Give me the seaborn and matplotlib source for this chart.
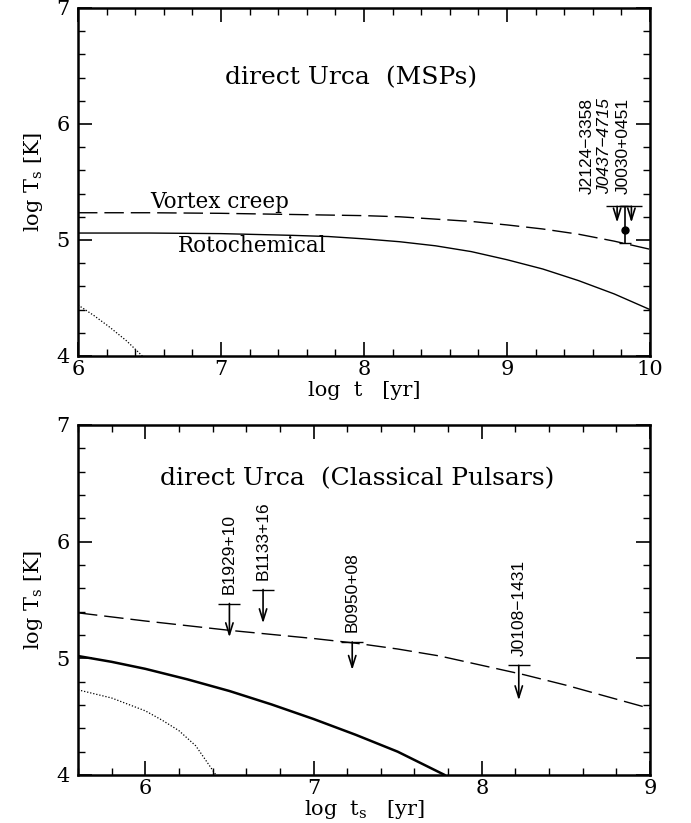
import numpy as np
import pandas as pd
import matplotlib
matplotlib.use("Agg")
import matplotlib.pyplot as plt
import seaborn as sns
from matplotlib.ticker import MultipleLocator

# ---------------- data ----------------
# Top panel (MSPs)
msp_t = [6.0, 6.5, 7.0, 7.5, 7.75, 8.0, 8.25, 8.5, 8.75, 9.0, 9.25, 9.5, 9.75, 10.0]
msp_vortex = [5.235, 5.235, 5.23, 5.22, 5.215, 5.21, 5.20, 5.18, 5.16, 5.13,
              5.095, 5.05, 4.99, 4.92]
msp_roto = [5.06, 5.06, 5.055, 5.04, 5.03, 5.01, 4.985, 4.95, 4.90, 4.83,
            4.75, 4.65, 4.535, 4.40]
msp_dot_t = [6.0, 6.11, 6.22, 6.34, 6.45]
msp_dot_T = [4.44, 4.35, 4.25, 4.13, 4.0]

msp_lim_names = ["J2124\u22123358", "J0030+0451"]
msp_lim_t = [9.77, 9.87]
msp_lim_T = [5.29, 5.29]
msp_lim_tip = [5.15, 5.15]

msp_det_name = "J0437\u22124715"
msp_det_t = 9.825
msp_det_T = 5.09
msp_det_lo = 4.97
msp_det_hi = 5.29

msp_label_names = ["J2124\u22123358", "J0437\u22124715", "J0030+0451"]
msp_label_t = [9.56, 9.685, 9.81]
msp_label_T = [5.40, 5.40, 5.40]

# Bottom panel (classical pulsars)
cp_t = [5.6, 5.8, 6.0, 6.25, 6.5, 6.75, 7.0, 7.25, 7.5, 7.75, 8.0, 8.25, 8.5, 8.75, 9.0]
cp_vortex = [5.39, 5.355, 5.32, 5.28, 5.24, 5.205, 5.17, 5.13, 5.08, 5.02,
             4.94, 4.86, 4.77, 4.67, 4.57]
cp_roto_t = [5.6, 5.8, 6.0, 6.25, 6.5, 6.75, 7.0, 7.25, 7.5, 7.78]
cp_roto = [5.02, 4.97, 4.91, 4.82, 4.72, 4.605, 4.48, 4.345, 4.20, 4.0]
cp_dot_t = [5.6, 5.8, 6.0, 6.1, 6.2, 6.3, 6.42]
cp_dot_T = [4.73, 4.66, 4.55, 4.47, 4.38, 4.25, 4.0]

cp_names = ["B1929+10", "B1133+16", "B0950+08", "J0108\u22121431"]
cp_lim_t = [6.50, 6.70, 7.23, 8.22]
cp_lim_T = [5.47, 5.59, 5.14, 4.94]
cp_lim_tip = [5.18, 5.30, 4.90, 4.64]

# ---------------- style ----------------
sns.set_theme(style="ticks")
plt.rcParams["font.family"] = ["DejaVu Serif"]
plt.rcParams["mathtext.fontset"] = "dejavuserif"
for k in ["text.color", "axes.labelcolor", "xtick.color", "ytick.color",
          "axes.edgecolor"]:
    plt.rcParams[k] = "black"
sans = ["Liberation Sans Narrow", "Liberation Sans", "DejaVu Sans"]

fig = plt.figure(figsize=(6.91, 8.23), dpi=100)
W, H = 691, 823
ax1 = fig.add_axes([78 / W, 1 - 356 / H, 572 / W, 348 / H])
ax2 = fig.add_axes([78 / W, 1 - 775 / H, 572 / W, 350 / H])


def style_axis(ax, xlim):
    ax.set_xlim(*xlim)
    ax.set_ylim(4, 7)
    ax.xaxis.set_major_locator(MultipleLocator(1))
    ax.xaxis.set_minor_locator(MultipleLocator(0.2))
    ax.yaxis.set_major_locator(MultipleLocator(1))
    ax.yaxis.set_minor_locator(MultipleLocator(0.2))
    ax.tick_params(which="both", direction="in", top=True, right=True,
                   color="black", labelcolor="black", labelsize=15)
    ax.tick_params(axis="x", pad=3)
    ax.tick_params(axis="y", pad=6)
    ax.tick_params(which="major", length=10, width=1.2)
    ax.tick_params(which="minor", length=5, width=1.0)
    for s in ax.spines.values():
        s.set_color("black")
        s.set_linewidth(1.8)
    ax.set_facecolor("white")


dash = (14, 5)
arrow_style = "->,head_length=0.7,head_width=0.22"

# ---- top panel ----
df1 = pd.DataFrame({"t": msp_t, "vortex": msp_vortex, "roto": msp_roto})
sns.lineplot(data=df1, x="t", y="vortex", ax=ax1, color="black", lw=1.0,
             linestyle=(0, dash))
sns.lineplot(data=df1, x="t", y="roto", ax=ax1, color="black", lw=1.0)
sns.lineplot(x=msp_dot_t, y=msp_dot_T, ax=ax1, color="black", lw=0.9,
             linestyle=(0, (1, 1.5)))

for x, y0, y1 in zip(msp_lim_t, msp_lim_T, msp_lim_tip):
    ax1.annotate("", xy=(x, y1), xytext=(x, y0),
                 arrowprops=dict(arrowstyle=arrow_style, color="black", lw=1.2,
                                 shrinkA=0, shrinkB=0))
    ax1.plot([x], [y0], marker="_", ms=16, mew=1.0, color="black")

ax1.errorbar([msp_det_t], [msp_det_T],
             yerr=[[msp_det_T - msp_det_lo], [msp_det_hi - msp_det_T]],
             fmt="o", ms=5, color="black", ecolor="black", elinewidth=1.2,
             capsize=4, capthick=1.0)

for name, x, y in zip(msp_label_names, msp_label_t, msp_label_T):
    ax1.text(x, y, name, rotation=90, ha="center", va="bottom", fontsize=12.5,
             family=sans, style="italic" if name == msp_det_name else "normal")

ax1.text(7.91, 6.40, "direct Urca  (MSPs)", ha="center", va="center", fontsize=18)
ax1.text(6.99, 5.33, "Vortex creep", ha="center", va="center", fontsize=15.5)
ax1.text(7.22, 4.95, "Rotochemical", ha="center", va="center", fontsize=15.5)

style_axis(ax1, (6, 10))
ax1.set_xlabel("log  t   [yr]", fontsize=15, labelpad=1)
ax1.set_ylabel("log T$_{\\rm s}$ [K]", fontsize=15, labelpad=8)

# ---- bottom panel ----
df2 = pd.DataFrame({"t": cp_t, "vortex": cp_vortex})
sns.lineplot(data=df2, x="t", y="vortex", ax=ax2, color="black", lw=1.0,
             linestyle=(0, dash))
sns.lineplot(x=cp_roto_t, y=cp_roto, ax=ax2, color="black", lw=1.8)
sns.lineplot(x=cp_dot_t, y=cp_dot_T, ax=ax2, color="black", lw=0.9,
             linestyle=(0, (1, 1.5)))

for name, x, y0, y1 in zip(cp_names, cp_lim_t, cp_lim_T, cp_lim_tip):
    ax2.annotate("", xy=(x, y1), xytext=(x, y0),
                 arrowprops=dict(arrowstyle=arrow_style, color="black", lw=1.2,
                                 shrinkA=0, shrinkB=0))
    ax2.plot([x], [y0], marker="_", ms=16, mew=1.0, color="black")
    ax2.annotate(name, xy=(x, y0), xytext=(0, 7), textcoords="offset points",
                 rotation=90, ha="center", va="bottom", fontsize=12.5, family=sans)

ax2.text(7.26, 6.54, "direct Urca  (Classical Pulsars)", ha="center",
         va="center", fontsize=18)

style_axis(ax2, (5.6, 9))
ax2.set_xlabel("log  t$_{\\rm s}$   [yr]", fontsize=15, labelpad=0)
ax2.set_ylabel("log T$_{\\rm s}$ [K]", fontsize=15, labelpad=8)

fig.savefig("out.png", dpi=100, facecolor="white")
